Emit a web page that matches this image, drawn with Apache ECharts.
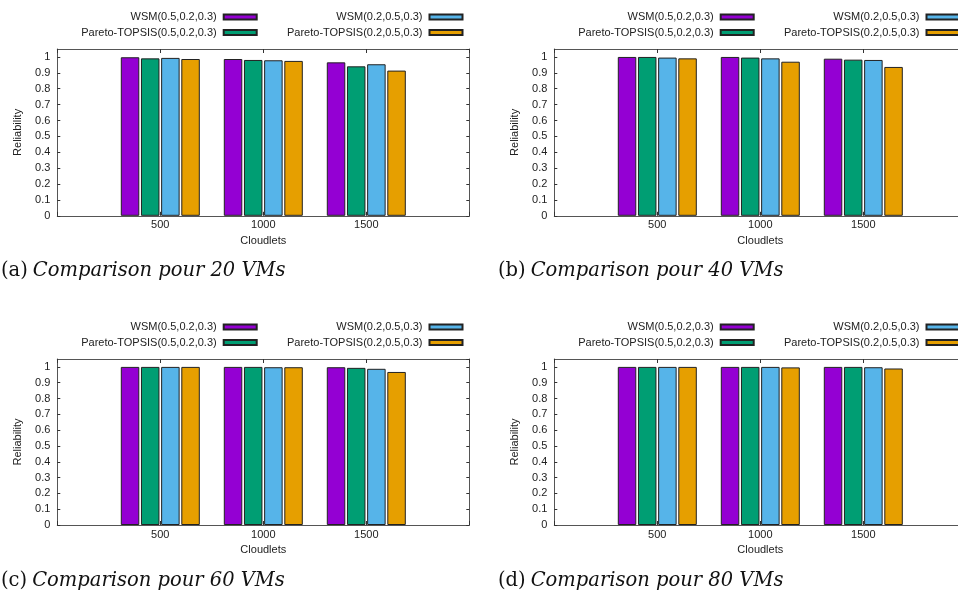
<!DOCTYPE html>
<html>
<head>
<meta charset="utf-8">
<script src="https://cdn.jsdelivr.net/npm/echarts@6/dist/echarts.min.js"></script>
<style>
html,body{margin:0;padding:0;background:#fff;}
#chart{width:958px;height:597px;}
</style>
</head>
<body>
<div id="chart"></div>
<script>
// ---- data ----
const categories = ['500', '1000', '1500'];
const seriesNames = ['WSM(0.5,0.2,0.3)', 'Pareto-TOPSIS(0.5,0.2,0.3)', 'WSM(0.2,0.5,0.3)', 'Pareto-TOPSIS(0.2,0.5,0.3)'];
const yTicks = { min: 0, max: 1.05, step: 0.1 };

// (a) 20 VMs
const wsm523_vm20    = [0.998, 0.987, 0.966];
const topsis523_vm20 = [0.991, 0.981, 0.941];
const wsm253_vm20    = [0.994, 0.979, 0.954];
const topsis253_vm20 = [0.987, 0.975, 0.914];
// (b) 40 VMs
const wsm523_vm40    = [1.000, 1.000, 0.989];
const topsis523_vm40 = [1.000, 0.996, 0.983];
const wsm253_vm40    = [0.996, 0.991, 0.981];
const topsis253_vm40 = [0.991, 0.970, 0.937];
// (c) 60 VMs
const wsm523_vm60    = [1.000, 1.000, 0.998];
const topsis523_vm60 = [1.000, 1.000, 0.994];
const wsm253_vm60    = [1.000, 0.998, 0.988];
const topsis253_vm60 = [1.000, 0.998, 0.968];
// (d) 80 VMs
const wsm523_vm80    = [1.000, 1.000, 1.000];
const topsis523_vm80 = [1.000, 1.000, 1.000];
const wsm253_vm80    = [1.000, 1.000, 0.998];
const topsis253_vm80 = [1.000, 0.997, 0.990];

const captionLabels = ['(a)', '(b)', '(c)', '(d)'];
const captionTexts = ['Comparison pour 20 VMs', 'Comparison pour 40 VMs', 'Comparison pour 60 VMs', 'Comparison pour 80 VMs'];

const panelData = [
  [wsm523_vm20, topsis523_vm20, wsm253_vm20, topsis253_vm20],
  [wsm523_vm40, topsis523_vm40, wsm253_vm40, topsis253_vm40],
  [wsm523_vm60, topsis523_vm60, wsm253_vm60, topsis253_vm60],
  [wsm523_vm80, topsis523_vm80, wsm253_vm80, topsis253_vm80]
];

// ---- style / layout ----
const colors = ['#9400D3', '#009E73', '#56B4E9', '#E69F00'];
const offsets = [[0, 0], [497, 0], [0, 310], [497, 310]];
const FONT = 'Liberation Sans';
const lineCol = '#555';
const textCol = '#222';

const option = {
  animation: false,
  backgroundColor: '#fff',
  grid: [], xAxis: [], yAxis: [], series: [], legend: [], title: []
};

offsets.forEach(([dx, dy], p) => {
  option.grid.push({
    left: 57.3 + dx, width: 412, top: 49 + dy, height: 166.8 - (dy ? 0.8 : 0),
    containLabel: false, outerBoundsMode: 'none'
  });
  const xBase = {
    gridIndex: p, type: 'value', min: -1, max: 3, interval: 1,
    axisLine: { show: true, onZero: false, lineStyle: { color: lineCol, width: 1 } },
    axisTick: { show: true, inside: true, length: 4, lineStyle: { color: '#333' } },
    splitLine: { show: false }
  };
  option.xAxis.push(Object.assign({}, xBase, {
    position: 'bottom',
    axisLabel: { show: true, margin: 4, fontFamily: FONT, fontSize: 11, color: textCol,
      formatter: v => categories[Math.round(v)] || '' },
    name: 'Cloudlets', nameLocation: 'middle', nameGap: 19.5,
    nameTextStyle: { fontFamily: FONT, fontSize: 11, color: textCol }
  }));
  option.xAxis.push(Object.assign({}, xBase, { position: 'top', axisLabel: { show: false } }));

  const yBase = {
    gridIndex: p, type: 'value', min: yTicks.min, max: yTicks.max, interval: yTicks.step,
    axisLine: { show: true, onZero: false, lineStyle: { color: lineCol, width: 1 } },
    axisTick: { show: true, inside: true, length: 3, lineStyle: { color: '#333' } },
    splitLine: { show: false }
  };
  option.yAxis.push(Object.assign({}, yBase, {
    position: 'left',
    axisLabel: { show: true, margin: 7, fontFamily: FONT, fontSize: 11, color: textCol, showMaxLabel: false },
    name: 'Reliability', nameLocation: 'middle', nameGap: 34,
    nameTextStyle: { fontFamily: FONT, fontSize: 11, color: textCol }
  }));
  option.yAxis.push(Object.assign({}, yBase, { position: 'right', axisLabel: { show: false } }));

  panelData[p].forEach((vals, s) => {
    option.series.push({
      type: 'bar', name: seriesNames[s],
      xAxisIndex: 2 * p, yAxisIndex: 2 * p,
      barWidth: 18.5, barGap: '9%',
      itemStyle: { color: colors[s], borderColor: '#222', borderWidth: 1 },
      data: vals.map((v, i) => [i, v])
    });
  });

  // legends: 2 columns x 2 rows, text left of sample
  const sampleRight = [257.7, 463.5];
  const rowTop = [10.5, 26];
  [[0, 0], [1, 0], [0, 1], [1, 1]].forEach(([row, col], s) => {
    option.legend.push({
      data: [seriesNames[s]],
      right: 958 - (sampleRight[col] + dx),
      top: rowTop[row] + dy,
      align: 'right', orient: 'horizontal', padding: 0,
      itemWidth: 33, itemHeight: 5, icon: 'rect',
      selectedMode: false,
      textStyle: { fontFamily: FONT, fontSize: 11, color: textCol, lineHeight: 13, padding: [0, 2, 0, 0] }
    });
  });

  option.title.push({
    left: dx + 1, top: dy + 258, padding: 0,
    text: '{n|' + captionLabels[p] + '} {i|' + captionTexts[p] + '}',
    textStyle: {
      fontWeight: 'normal',
      rich: {
        n: { fontFamily: 'DejaVu Serif', fontSize: 19.5, fontStyle: 'normal', fontWeight: 'normal', color: '#111', lineHeight: 26 },
        i: { fontFamily: 'DejaVu Serif', fontSize: 19.5, fontStyle: 'italic', fontWeight: 'normal', color: '#111', lineHeight: 26 }
      }
    }
  });
});

const chart = echarts.init(document.getElementById('chart'), null, { renderer: 'canvas' });
chart.setOption(option);
</script>
</body>
</html>
